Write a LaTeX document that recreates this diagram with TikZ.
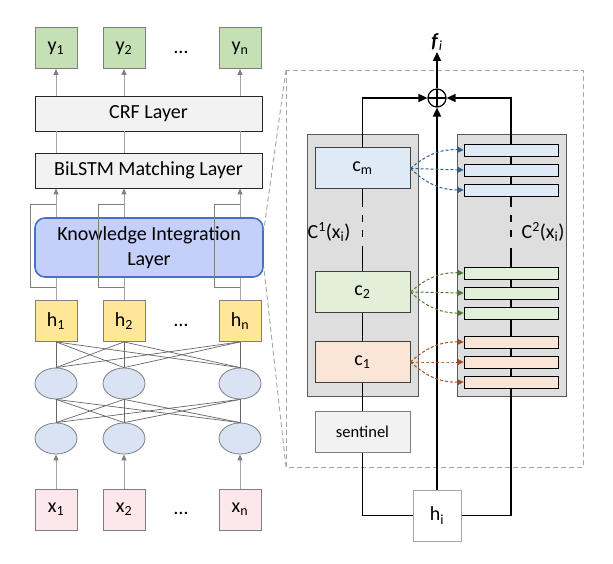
\documentclass[tikz,border=0pt]{standalone}
\usepackage{fontspec}
\setmainfont{Carlito}
\usepackage{tikz}
\usetikzlibrary{positioning,shapes.geometric,arrows.meta}

\definecolor{tag green}{HTML}{C5E0B4}
\definecolor{hid yellow}{HTML}{FFE699}
\definecolor{word pink}{HTML}{FCE8EC}
\definecolor{cell blue}{HTML}{DAE3F3}
\definecolor{layer gray}{HTML}{F2F2F2}
\definecolor{kil blue}{HTML}{C4D0FA}
\definecolor{kil border}{HTML}{4472C4}
\definecolor{frame gray}{HTML}{7F7F7F}
\definecolor{flow gray}{HTML}{A5A5A5}
\definecolor{panel gray}{HTML}{DEDEDE}
\definecolor{slot blue}{HTML}{DEEBF7}
\definecolor{slot green}{HTML}{E2F0D9}
\definecolor{slot peach}{HTML}{FBE5D6}
\definecolor{fan blue}{HTML}{2E5E8E}
\definecolor{fan green}{HTML}{4F7A33}
\definecolor{fan brown}{HTML}{A0501E}

\begin{document}
\begin{tikzpicture} [x=1pt,y=-1pt,
	font=\fontsize{20}{25}\selectfont,
	token/.style={
		rectangle,draw=frame gray,fill=#1,line width=0.8pt,
		minimum width=42pt,minimum height=41pt,inner sep=0pt},
	layer/.style={
		rectangle,draw=black!85,fill=layer gray,line width=0.8pt,
		minimum width=227pt,minimum height=35pt,inner sep=0pt},
	knowledge/.style={
		rectangle,draw=kil border,fill=kil blue,line width=1.6pt,
		rounded corners=10pt,align=center,
		minimum width=228pt,minimum height=59pt,inner sep=0pt},
	cell/.style={
		ellipse,draw=frame gray,fill=cell blue,line width=0.8pt,
		minimum width=42pt,minimum height=31pt,inner sep=0pt},
	panel/.style={
		rectangle,draw=black!65,fill=panel gray,line width=1pt,
		minimum width=111pt,minimum height=261pt,inner sep=0pt},
	slot/.style={
		rectangle,draw=black!75,fill=#1,line width=1pt,
		minimum width=95pt,minimum height=41pt,inner sep=0pt},
	bar/.style={
		rectangle,draw=black,fill=#1,line width=0.9pt,
		minimum width=94pt,minimum height=12pt,inner sep=0pt},
	plain/.style={inner sep=1pt},
	flow/.style={draw=flow gray,line width=0.9pt},
	gray tip/.style={
		flow,-{Triangle[length=6pt,width=5pt,color=frame gray]}},
	mesh/.style={draw=black!60,line width=0.7pt},
	bypass/.style={draw=frame gray,line width=0.9pt},
	path line/.style={draw=black,line width=1.5pt},
	path tip/.style={
		path line,-{Triangle[length=9pt,width=8pt]}},
	fan/.style={
		draw=#1,line width=1pt,dash pattern=on 3pt off 2pt,
		-{Triangle[length=6pt,width=6pt]}},
	callout/.style={draw=flow gray,line width=0.9pt,dash pattern=on 5pt off 3pt}]
\useasboundingbox (0,0) rectangle (613,564);

% left: sequence labelling
\node[token=tag green] 	(y 1) 	at (56,48) {y\textsubscript{1}};
\node[token=tag green] 	(y 2) 	at (124,48) {y\textsubscript{2}};
\node[token=tag green] 	(y n) 	at (240,48) {y\textsubscript{n}};
\node[plain] 	(dots y) 	at (181,52) {\textellipsis};
\node[layer] 	(crf layer) 	at (148.5,113.5) {CRF Layer};
\node[layer] 	(bilstm layer) 	at (148.5,170.5) {BiLSTM Matching Layer};
\node[token=hid yellow] 	(h 1) 	at (56,321) {h\textsubscript{1}};
\node[token=hid yellow] 	(h 2) 	at (124,321) {h\textsubscript{2}};
\node[token=hid yellow] 	(h n) 	at (240,321) {h\textsubscript{n}};
\node[plain] 	(dots h) 	at (181,325) {\textellipsis};
\node[cell] 	(up 1) 	at (56,383.5) {};
\node[cell] 	(up 2) 	at (124,383.5) {};
\node[cell] 	(up n) 	at (240,383.5) {};
\node[cell] 	(low 1) 	at (56,438.5) {};
\node[cell] 	(low 2) 	at (124,438.5) {};
\node[cell] 	(low n) 	at (240,438.5) {};
\node[token=word pink] 	(x 1) 	at (56,509.5) {x\textsubscript{1}};
\node[token=word pink] 	(x 2) 	at (124,509.5) {x\textsubscript{2}};
\node[token=word pink] 	(x n) 	at (240,509.5) {x\textsubscript{n}};
\node[plain] 	(dots x) 	at (181,513) {\textellipsis};

\foreach \c in {1,2,n} {
	\draw[gray tip] (y \c |- crf layer.north) -- (y \c.south);
	\draw[flow] (y \c |- bilstm layer.north) -- (y \c |- crf layer.south);
	\draw[gray tip] (h \c.north) -- (h \c |- bilstm layer.south);
	\draw[gray tip] (x \c.north) -- (low \c.south);
}
\foreach \a in {1,2,n}
	\foreach \b in {1,2,n} {
		\draw[mesh] (h \a.south) -- (up \b.north);
		\draw[mesh] (up \a.south) -- (low \b.north);
	}

\node[knowledge] 	(knowledge layer) 	at (149,247.5) {Knowledge Integration\\Layer};

\foreach \c/\x in {1/56,2/124,n/240} {
	\coordinate (split \c) at (\x,287);
	\coordinate (join \c) at (\x,204);
	\draw[bypass] (split \c) -- ++(-26,0) |- (join \c);
}

% right: knowledge integration detail
\coordinate (zoom top) at (286,70);
\coordinate (zoom bottom) at (583,467);
\draw[callout] (zoom top) rectangle (zoom bottom);
\draw[callout] (zoom top) -- ([yshift=17.5pt]knowledge layer.east);
\draw[callout] (zoom top |- zoom bottom) -- ([yshift=-19.5pt]knowledge layer.east);

\node[panel] 	(memory one) 	at (362.5,265.5) {};
\node[panel,minimum width=109pt] 	(memory two) 	at (511.5,265.5) {};
\node[slot=slot blue] 	(c m) 	at (362.5,168.5) {c\textsubscript{m}};
\node[slot=slot green] 	(c 2) 	at (362.5,292) {c\textsubscript{2}};
\node[slot=slot peach] 	(c 1) 	at (362.5,362) {c\textsubscript{1}};
\node[slot=layer gray,draw=frame gray,
	font=\fontsize{16.5}{20}\selectfont] 	(sentinel) 	at (362.5,431.5) {sentinel};
\node[rectangle,draw=flow gray,fill=white,line width=1pt,
	minimum width=48pt,minimum height=51pt] 	(h i) 	at (437,515.5) {h\textsubscript{i}};
\node[plain] 	(c one label) 	at (329,232) {C\textsuperscript{1}(x\textsubscript{i})};
\node[plain] 	(c two label) 	at (543,232) {C\textsuperscript{2}(x\textsubscript{i})};

\foreach \k/\y in {1/150,2/170,3/190}
	\node[bar=slot blue] 	(blue \k) 	at (511,\y) {};
\foreach \k/\y in {1/273,2/293,3/313}
	\node[bar=slot green] 	(green \k) 	at (511,\y) {};
\foreach \k/\y in {1/342,2/362,3/382}
	\node[bar=slot peach] 	(peach \k) 	at (511,\y) {};

\node[circle,draw,line width=1.2pt,minimum size=18pt,inner sep=0pt,
	path picture={\draw[line width=1.2pt]
		(path picture bounding box.north) -- (path picture bounding box.south)
		(path picture bounding box.west) -- (path picture bounding box.east);}]
	(plus) 	at (437,98) {};
\node[plain,anchor=south] 	(f label) 	at (437,52) {\textbf{\textit{f}}\textsubscript{\textit{i}}};

\draw[path line] (h i.west) -| (sentinel.south);
\draw[path line] (sentinel.north) -- (c 1.south);
\draw[path line] (c 1.north) -- (c 2.south);
\draw[path line,dash pattern=on 18pt off 8pt on 7pt off 8pt on 7pt off 8pt on 40pt]
	(c m.south) -- (c 2.north);
\draw[path tip] (c m.north) |- (plus.west);
\draw[path tip] (h i.north) -- (plus.south);
\draw[path line] (h i.east) -| (peach 3.south);
\foreach \lo/\hi in {peach 3/peach 2,peach 2/peach 1,peach 1/green 3,
		green 3/green 2,green 2/green 1,blue 3/blue 2,blue 2/blue 1}
	\draw[path line] (\lo.north) -- (\hi.south);
\draw[path line,dash pattern=on 11pt off 8pt on 7pt off 8pt on 7pt off 11pt on 40pt]
	(blue 3.south) -- (green 1.north);
\draw[path tip] (blue 1.north) |- (plus.east);
\draw[path tip] (plus.north) -- (f label.south);

\foreach \k/\bend in {1/22,2/0,3/-22} {
	\draw[fan=fan blue] (c m.east) to[bend left=\bend] (blue \k.west);
	\draw[fan=fan green] (c 2.east) to[bend left=\bend] (green \k.west);
	\draw[fan=fan brown] (c 1.east) to[bend left=\bend] (peach \k.west);
}
\end{tikzpicture}
\end{document}
